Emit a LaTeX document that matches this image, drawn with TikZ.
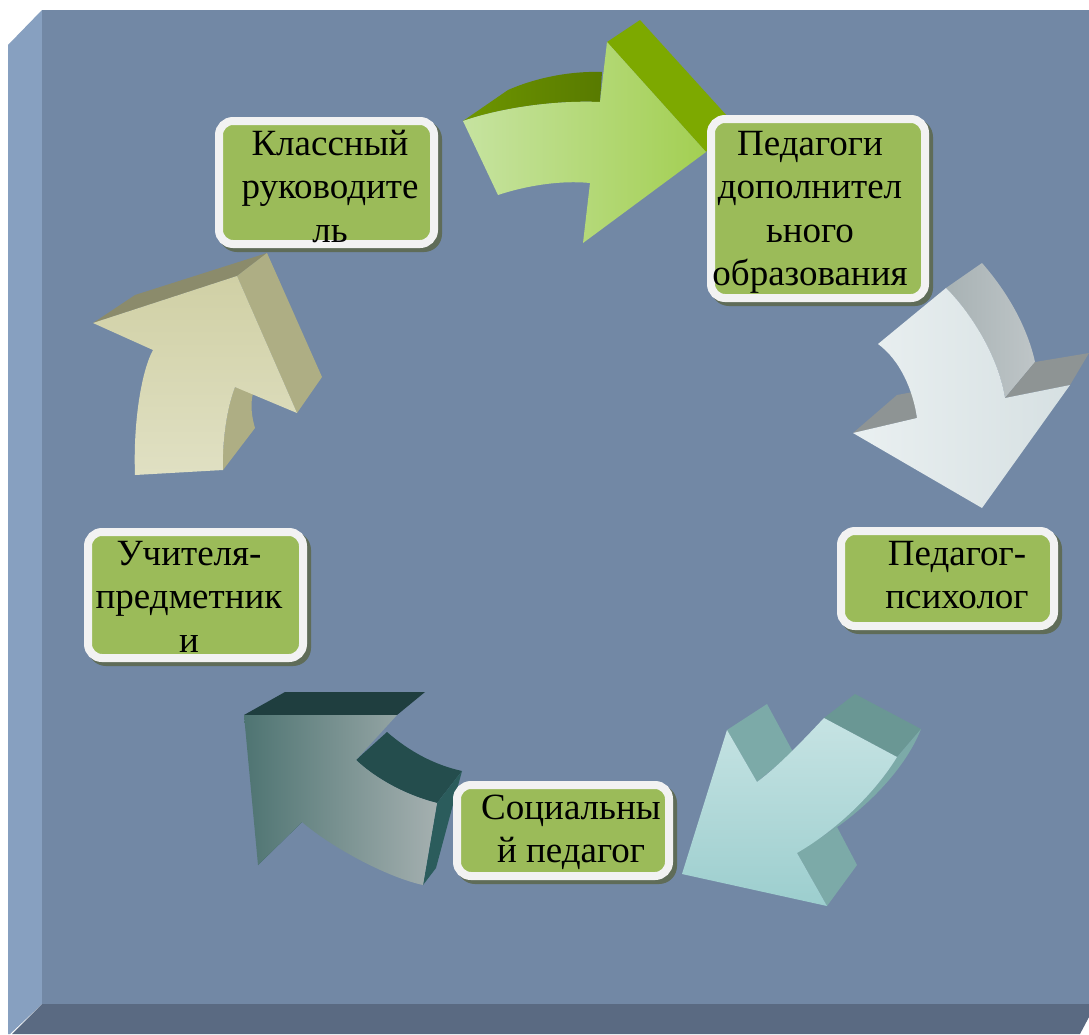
\documentclass[tikz,border=0pt]{standalone}
\usepackage{fontspec}
\setmainfont{Liberation Serif}
\usepackage{tikz}
\usetikzlibrary{positioning}

\definecolor{facebg}{RGB}{114,136,165}
\definecolor{faceleft}{RGB}{135,160,192}
\definecolor{facebottom}{RGB}{90,106,130}
\definecolor{boxgreen}{RGB}{155,187,89}
\definecolor{boxrim}{RGB}{242,242,242}
\definecolor{boxshade}{RGB}{95,108,88}

% arrow colours
\definecolor{grnside}{RGB}{110,150,0}
\definecolor{grnsidedark}{RGB}{88,122,0}
\definecolor{grnhead}{RGB}{125,169,0}
\definecolor{grnlight}{RGB}{198,227,160}
\definecolor{grnfront}{RGB}{163,207,82}
\definecolor{gryside}{RGB}{168,178,180}
\definecolor{grysidelight}{RGB}{190,197,199}
\definecolor{gryhead}{RGB}{142,148,148}
\definecolor{grylight}{RGB}{234,240,241}
\definecolor{gryfront}{RGB}{214,224,226}
\definecolor{tqend}{RGB}{106,151,148}
\definecolor{tqside}{RGB}{124,170,168}
\definecolor{tqlight}{RGB}{198,227,227}
\definecolor{tqfront}{RGB}{156,206,206}
\definecolor{dtqtop}{RGB}{31,62,63}
\definecolor{dtqside}{RGB}{36,77,77}
\definecolor{dtqend}{RGB}{43,92,92}
\definecolor{dtqdark}{RGB}{78,116,114}
\definecolor{dtqlight}{RGB}{165,176,176}
\definecolor{khtop}{RGB}{139,139,107}
\definecolor{khside}{RGB}{174,174,132}
\definecolor{khfront}{RGB}{208,208,165}
\definecolor{khlight}{RGB}{224,224,195}

\tikzset{
    rolebox/.style={fill=boxgreen, draw=boxrim, line width=8pt, rounded corners=14pt, inner sep=0pt},
    roleshadow/.style={fill=boxshade, rounded corners=18pt, inner sep=0pt},
    roletext/.style={anchor=north, inner sep=0pt, align=center, font=\fontsize{37}{43.5}\selectfont}
}

\def\panel{%
    % white page
    \fill[white] (0,0) rectangle (1089,1034);

    % left bevel
    \fill[faceleft] (8,45) -- (42,10) -- (42,1004) -- (10,1034) -- (8,1034) -- cycle;

    % bottom bevel
    \fill[facebottom] (42,1004) -- (1089,1004) -- (1089,1017) -- (1080,1034) -- (12,1034) -- cycle;

    % front face
    \fill[facebg] (42,10) rectangle (1089,1004);
}

\begin{document}
\begin{tikzpicture}[x=1pt, y=-1pt]
    \useasboundingbox (0,0) rectangle (1089,1034);
    \panel

    % arrow: green, top
    \shade[left color=grnside, right color=grnsidedark]
        (463,121) -- (508,90) .. controls (540,76) and (575,71) .. (602,72)
        -- (600,102) .. controls (555,100) and (500,108) .. (463,121) -- cycle;
    \fill[grnhead] (607,42) -- (640,20) -- (728,117) -- (706,152) -- cycle;
    \shade[left color=grnlight, right color=grnfront]
        (463,121) .. controls (500,108) and (555,100) .. (600,102) -- (607,42) -- (706,152)
        -- (583,243) -- (590,183) .. controls (560,180) and (525,186) .. (498,195) -- cycle;

    % arrow: light grey, right
    \shade[left color=gryside, right color=grysidelight]
        (946,288) -- (982,263) .. controls (1010,295) and (1028,330) .. (1035,362)
        -- (1005,398) .. controls (998,355) and (970,312) .. (946,288) -- cycle;
    \fill[gryhead] (1005,398) -- (1035,362) -- (1089,353) -- (1070,385) -- cycle;
    \fill[gryhead] (853,433) -- (897,395) -- (913,392) -- (917,418) -- cycle;
    \shade[left color=grylight, right color=gryfront]
        (878,344) -- (946,288) .. controls (970,312) and (998,355) .. (1005,398) -- (1070,385)
        -- (982,508) -- (853,433) -- (917,418) .. controls (913,390) and (900,360) .. (878,344) -- cycle;

    % arrow: light teal, bottom right
    \fill[tqend] (824,718) -- (855,694) -- (921,729) -- (897,757) -- cycle;
    \fill[tqside]
        (897,757) -- (921,729) .. controls (908,762) and (878,797) .. (840,825)
        -- (797,853) .. controls (845,825) and (880,785) .. (897,757) -- cycle;
    \fill[tqside] (727,730) -- (767,704) -- (793,752) -- (757,782) -- cycle;
    \fill[tqside] (797,853) -- (837,827) -- (857,865) -- (827,906) -- cycle;
    \shade[top color=tqlight, bottom color=tqfront]
        (897,757) .. controls (880,785) and (845,825) .. (797,853) -- (827,906) -- (682,874)
        -- (727,730) -- (757,782) .. controls (780,765) and (805,738) .. (824,718) -- cycle;

    % arrow: dark teal, bottom left
    \fill[dtqtop] (244,715) -- (285,692) -- (425,692) -- (397,715) -- cycle;
    \fill[dtqside]
        (356,760) -- (387,732) .. controls (410,752) and (435,765) .. (462,771)
        -- (437,803) .. controls (405,795) and (375,778) .. (356,760) -- cycle;
    \fill[dtqend] (437,803) -- (462,771) -- (436,868) -- (423,885) -- cycle;
    \fill[dtqend] (258,865) -- (299,819) -- (302,822) -- cycle;
    \shade[left color=dtqdark, right color=dtqlight]
        (244,715) -- (397,715) -- (356,760) .. controls (375,778) and (405,795) .. (437,803)
        -- (423,885) .. controls (390,878) and (335,850) .. (302,822) -- (258,865) -- cycle;

    % arrow: khaki, left
    \fill[khtop] (93,323) -- (135,295) -- (267,253) -- (237,276) -- cycle;
    \fill[khside] (237,276) -- (267,253) -- (322,377) -- (297,413) -- cycle;
    \fill[khside]
        (235,387) -- (253,393) .. controls (250,405) and (252,418) .. (255,428)
        -- (223,470) .. controls (222,445) and (226,410) .. (235,387) -- cycle;
    \shade[top color=khfront, bottom color=khlight]
        (135,475) -- (223,470) .. controls (222,445) and (226,410) .. (235,387) -- (297,413)
        -- (237,276) -- (93,323) -- (153,350) .. controls (142,370) and (133,420) .. (135,475) -- cycle;

    % boxes
    \foreach \nm/\cx/\cy/\w/\h in {
        kr/326.5/182.5/215/123,
        pdo/818/208.5/214/179,
        pp/947.5/578.5/213/95,
        sp/563/830.5/212/91,
        up/195.5/595/215/126}
    {
        \node[roleshadow, minimum width=\w pt+8pt, minimum height=\h pt+8pt] (\nm-sh) at (\cx+4,\cy+4) {};
        \node[rolebox, minimum width=\w pt, minimum height=\h pt] (\nm) at (\cx,\cy) {};
    }

    % texts
    \node[roletext] (kr-t)  at (330,124.5) {\strut Классный\\руководите\\ль};
    \node[roletext] (pdo-t) at (810,124.5) {\strut Педагоги\\дополнител\\ьного\\образования};
    \node[roletext] (pp-t)  at (957,534.5) {\strut Педагог-\\психолог};
    \node[roletext] (sp-t)  at (571,788.5) {\strut Социальны\\й педагог};
    \node[roletext] (up-t)  at (189,534.5) {\strut Учителя-\\предметник\\и};
\end{tikzpicture}
\end{document}
